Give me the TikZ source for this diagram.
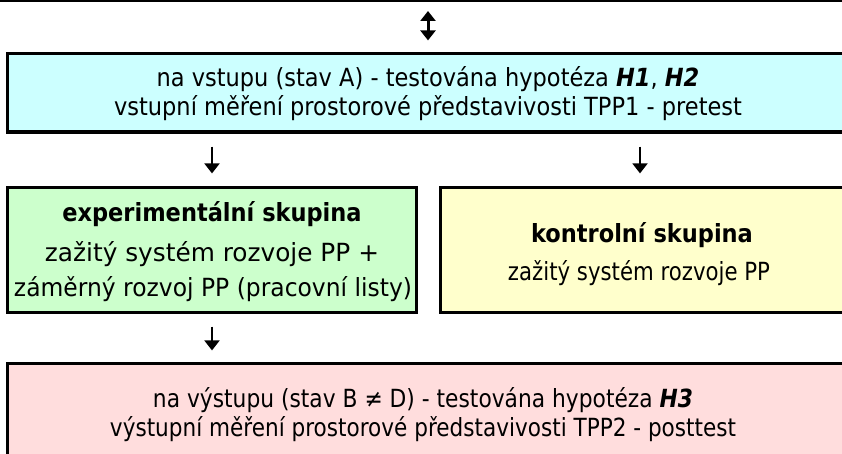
\documentclass[tikz,border=0pt]{standalone}
\usepackage{fontspec}
\setmainfont[FakeStretch=0.9]{DejaVu Sans}
\usetikzlibrary{arrows.meta,calc}
\definecolor{cyanfill}{RGB}{204,255,255}
\definecolor{greenfill}{RGB}{204,255,204}
\definecolor{yellowfill}{RGB}{255,255,204}
\definecolor{pinkfill}{RGB}{255,221,221}
% set a line to a given width, keeping its height
\newcommand\fitline[2]{\resizebox{#1pt}{\height}{#2}}

\begin{document}
\begin{tikzpicture}[x=1pt,y=-1pt,
  box/.style={draw=black,line width=3.2pt,rectangle,inner sep=0pt},
  txt/.style={anchor=base,inner sep=0pt,font=\fontsize{25}{30}\selectfont},
  flow/.style={line width=2pt,-{Triangle[length=10pt,width=15pt]}},
  twoway/.style={line width=3pt,{Triangle[length=10pt,width=15pt]}-{Triangle[length=10pt,width=15pt]}}]
\useasboundingbox (0,0) rectangle (842,454);
\begin{scope}
\clip (0,0) rectangle (842,454);
% lower edge of the preceding stage
\draw[line width=3.2pt] (-10,-40) rectangle (852,0.5);
\coordinate (prevedge) at (428,0.5);

% boxes
\node[box,fill=cyanfill,minimum width=841pt,minimum height=78.5pt] (cyan) at (428,92.75) {};
\node[box,fill=greenfill,minimum width=409pt,minimum height=125pt] (green) at (212,250) {};
\node[box,fill=yellowfill,minimum width=405pt,minimum height=125pt] (yellow) at (643,250) {};
\node[box,fill=pinkfill,minimum width=841pt,minimum height=103pt] (pink) at (428,415) {};

% texts
\node[txt] (c1) at (428,87) {na vstupu (stav A) - testována hypotéza \textbf{\textit{H1}}, \textbf{\textit{H2}}};
\node[txt] (c2) at (428,116) {vstupní měření prostorové představivosti TPP1 - pretest};
\node[txt] (g1) at (212,222) {\textbf{experimentální skupina}};
\node[txt] (g2) at (212,261) {\fitline{334}{zažitý systém rozvoje PP +}};
\node[txt] (g3) at (213,296) {\fitline{398}{záměrný rozvoj PP (pracovní listy)}};
\node[txt] (y1) at (642,242) {\textbf{kontrolní skupina}};
\node[txt] (y2) at (639,280) {\fitline{262}{zažitý systém rozvoje PP}};
\node[txt] (p1) at (423,407) {\fitline{540}{na výstupu (stav B ≠ D) - testována hypotéza \textbf{\textit{H3}}}};
\node[txt] (p2) at (423,436) {\fitline{626}{výstupní měření prostorové představivosti TPP2 - posttest}};

% connectors
\draw[twoway,shorten <=10.5pt,shorten >=11.5pt] (prevedge) -- (cyan.north);
\draw[flow,shorten <=13pt,shorten >=12.5pt] (cyan.south -| green.north) -- (green.north);
\draw[flow,shorten <=13pt,shorten >=12.5pt] ([xshift=-3pt]cyan.south -| yellow.north) -- ([xshift=-3pt]yellow.north);
\draw[flow,shorten <=12.5pt,shorten >=11.5pt] (green.south) -- (green.south |- pink.north);
\end{scope}
\end{tikzpicture}
\end{document}
